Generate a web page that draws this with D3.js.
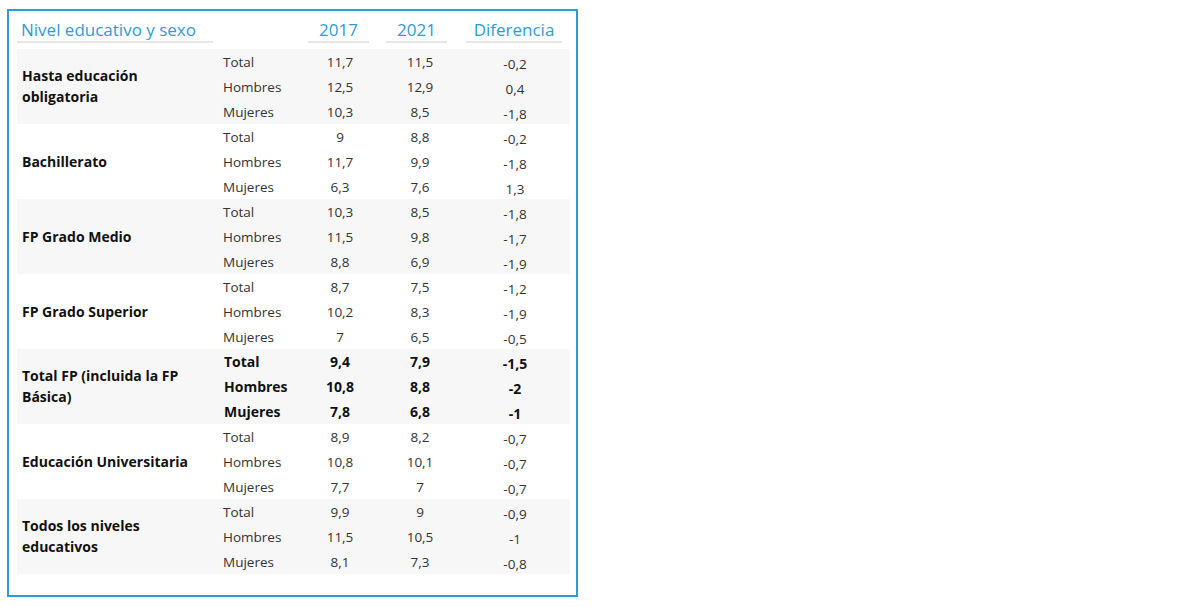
<!DOCTYPE html>
<html lang="es">
<head>
<meta charset="UTF-8">
<title>Nivel educativo y sexo</title>
<script src="https://d3js.org/d3.v7.min.js"></script>
<style>
  body, html { margin: 0; padding: 0; background: #fff; }
  text { font-family: "Open Sans", "Noto Sans", sans-serif; }
</style>
</head>
<body>
<svg id="chart" width="1180" height="607"></svg>
<script>
const niveles = ["Hasta educación|obligatoria", "Bachillerato", "FP Grado Medio", "FP Grado Superior",
  "Total FP (incluida la FP|Básica)", "Educación Universitaria", "Todos los niveles|educativos"];
const sexos = ["Total", "Hombres", "Mujeres"];
const v2017 = ["11,7","12,5","10,3", "9","11,7","6,3", "10,3","11,5","8,8", "8,7","10,2","7",
  "9,4","10,8","7,8", "8,9","10,8","7,7", "9,9","11,5","8,1"];
const v2021 = ["11,5","12,9","8,5", "8,8","9,9","7,6", "8,5","9,8","6,9", "7,5","8,3","6,5",
  "7,9","8,8","6,8", "8,2","10,1","7", "9","10,5","7,3"];
const diferencia = ["-0,2","0,4","-1,8", "-0,2","-1,8","1,3", "-1,8","-1,7","-1,9", "-1,2","-1,9","-0,5",
  "-1,5","-2","-1", "-0,7","-0,7","-0,7", "-0,9","-1","-0,8"];
const boldGroup = 4;

const svg = d3.select("#chart");
const blue = "#2f9bd6";

svg.append("rect").attr("x", 8).attr("y", 10).attr("width", 569).attr("height", 586)
  .attr("fill", "none").attr("stroke", blue).attr("stroke-width", 2);

const headers = [
  { t: "Nivel educativo y sexo", x0: 17, x1: 213, anchor: "start" },
  { t: "2017", x0: 308, x1: 369 },
  { t: "2021", x0: 386, x1: 447 },
  { t: "Diferencia", x0: 466, x1: 562 }
];
headers.forEach(h => {
  svg.append("line").attr("x1", h.x0).attr("x2", h.x1).attr("y1", 42).attr("y2", 42)
    .attr("stroke", "#e6e6e6").attr("stroke-width", 2);
  svg.append("text").attr("x", h.anchor ? h.x0 + 4 : (h.x0 + h.x1) / 2).attr("y", 36)
    .attr("text-anchor", h.anchor || "middle").attr("font-size", 17).attr("fill", blue).text(h.t);
});

const rowH = 25, tableTop = 49;
const y = d3.scaleLinear().domain([0, 21]).range([tableTop, tableTop + 21 * rowH]);

niveles.forEach((n, g) => {
  const gy = y(g * 3);
  if (g % 2 === 0) svg.append("rect").attr("x", 17).attr("y", gy).attr("width", 553)
    .attr("height", rowH * 3).attr("fill", "#f7f7f7");
  const lines = n.split("|");
  const cy = gy + rowH * 1.5;
  lines.forEach((l, i) => {
    svg.append("text").attr("x", 22).attr("y", cy + 5 + (i - (lines.length - 1) / 2) * 21)
      .attr("font-size", 14).attr("font-weight", "bold").attr("fill", "#111").text(l);
  });
  sexos.forEach((s, k) => {
    const idx = g * 3 + k;
    const ry = y(idx) + rowH / 2 + 5;
    const fw = g === boldGroup ? "bold" : "normal";
    const fs = g === boldGroup ? 14 : 13.5;
    const fill = g === boldGroup ? "#111" : "#333";
    svg.append("text").attr("x", g === boldGroup ? 224 : 223).attr("y", ry)
      .attr("font-size", fs).attr("font-weight", fw).attr("fill", fill).text(s);
    svg.append("text").attr("x", 340).attr("y", ry).attr("text-anchor", "middle")
      .attr("font-size", fs).attr("font-weight", fw).attr("fill", fill).text(v2017[idx]);
    svg.append("text").attr("x", 420).attr("y", ry).attr("text-anchor", "middle")
      .attr("font-size", fs).attr("font-weight", fw).attr("fill", fill).text(v2021[idx]);
    svg.append("text").attr("x", 515).attr("y", ry + 2).attr("text-anchor", "middle")
      .attr("font-size", fs).attr("font-weight", fw).attr("fill", fill).text(diferencia[idx]);
  });
});
</script>
</body>
</html>
